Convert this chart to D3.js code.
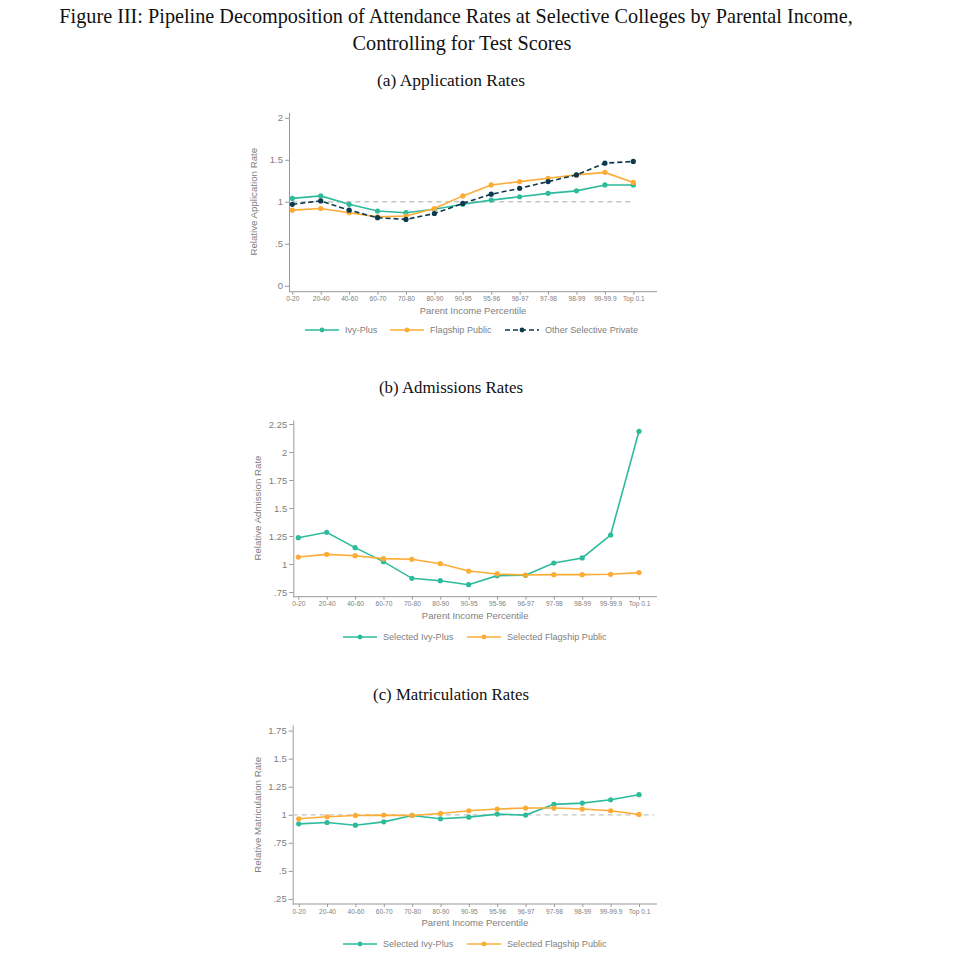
<!DOCTYPE html>
<html><head><meta charset="utf-8">
<script src="https://cdn.jsdelivr.net/npm/d3@7/dist/d3.min.js"></script>
<style>
body{margin:0;background:#fff;}
svg{display:block;}
</style></head>
<body>
<svg id="chart" width="960" height="955"></svg>
<script>
// ---- Data ----
const categories = ["0-20","20-40","40-60","60-70","70-80","80-90","90-95","95-96","96-97","97-98","98-99","99-99.9","Top 0.1"];

// (a) Application rates
const appIvyPlus   = [1.04,1.07,0.97,0.89,0.87,0.91,0.97,1.02,1.06,1.10,1.13,1.20,1.20];
const appFlagship  = [0.90,0.92,0.87,0.82,0.83,0.92,1.07,1.20,1.24,1.28,1.32,1.35,1.23];
const appOtherPriv = [0.97,1.01,0.90,0.81,0.79,0.86,0.98,1.09,1.16,1.24,1.32,1.46,1.48];

// (b) Admission rates
const admIvyPlus   = [1.235,1.283,1.146,1.021,0.872,0.851,0.815,0.896,0.899,1.009,1.054,1.259,2.185];
const admFlagship  = [1.062,1.086,1.074,1.048,1.042,1.003,0.937,0.911,0.902,0.905,0.905,0.908,0.923];

// (c) Matriculation rates
const matIvyPlus   = [0.919,0.931,0.907,0.937,0.994,0.964,0.979,1.006,0.997,1.093,1.104,1.134,1.179];
const matFlagship  = [0.964,0.982,0.994,0.997,0.994,1.012,1.036,1.051,1.060,1.060,1.051,1.036,1.003];

const appTicks = [0,0.5,1,1.5,2];
const admTicks = [0.75,1,1.25,1.5,1.75,2,2.25];
const matTicks = [0.25,0.5,0.75,1,1.25,1.5,1.75];

const titleLine1 = "Figure III: Pipeline Decomposition of Attendance Rates at Selective Colleges by Parental Income,";
const titleLine2 = "Controlling for Test Scores";

// ---- Styles ----
const TEAL = "#2dbb9c", ORANGE = "#fcac35", NAVY = "#0d394f";
const AX = "#9a9a9a", TXT = "#808080";
const SANS = "'Liberation Sans', Arial, sans-serif";
const SERIF = "'Liberation Serif', 'DejaVu Serif', serif";

const svg = d3.select("#chart");

function fitText(sel, target){
  const w = sel.node().getComputedTextLength();
  const fs = parseFloat(sel.attr("font-size"));
  sel.attr("font-size", (fs*target/w).toFixed(2));
}

const t1 = svg.append("text").attr("x",456).attr("y",23).attr("text-anchor","middle")
  .attr("font-family",SERIF).attr("font-size",18).attr("fill","#111").text(titleLine1);
fitText(t1, 794);
const t2 = svg.append("text").attr("x",462).attr("y",50).attr("text-anchor","middle")
  .attr("font-family",SERIF).attr("font-size",t1.attr("font-size")).attr("fill","#111").text(titleLine2);

function fmt(v){
  let s = String(v);
  if (s.startsWith("0.")) s = s.slice(1);
  return s;
}

function panel(cfg){
  const g = svg.append("g");
  const pt = g.append("text").attr("x",cfg.titleX).attr("y",cfg.titleY).attr("text-anchor","middle")
    .attr("font-family",SERIF).attr("font-size",14.5).attr("fill","#111").text(cfg.title);
  fitText(pt, cfg.titleW);

  const x = d3.scalePoint().domain(categories).range([cfg.xFirst, cfg.xLast]);
  const y = d3.scaleLinear().domain(cfg.yDomain).range([cfg.xAxisY, cfg.yTop]);

  // y axis
  const ya = g.append("g").attr("transform",`translate(${cfg.yAxisX},0)`)
    .call(d3.axisLeft(y).tickValues(cfg.ticks).tickFormat(fmt).tickSize(4).tickSizeOuter(0).tickPadding(2));
  ya.select(".domain").attr("stroke",AX);
  ya.selectAll(".tick line").attr("stroke",AX);
  ya.selectAll(".tick text").attr("fill",TXT).attr("font-family",SANS).attr("font-size",9.5);

  // x axis
  const xa = g.append("g").attr("transform",`translate(0,${cfg.xAxisY})`)
    .call(d3.axisBottom(x).tickSize(3).tickSizeOuter(0).tickPadding(2));
  xa.select(".domain").remove();
  xa.append("line").attr("x1",cfg.yAxisX).attr("x2",cfg.xRight).attr("stroke",AX);
  xa.selectAll(".tick line").attr("stroke",AX);
  xa.selectAll(".tick text").attr("fill",TXT).attr("font-family",SANS).attr("font-size",6.6);

  // axis titles
  g.append("text").attr("x",(cfg.yAxisX+cfg.xRight)/2).attr("y",cfg.xAxisY+22)
    .attr("text-anchor","middle").attr("font-family",SANS).attr("font-size",9.5).attr("fill",TXT)
    .text("Parent Income Percentile");
  const ymid = y(cfg.ticks[0]) + (y(cfg.ticks[cfg.ticks.length-1]) - y(cfg.ticks[0]))/2;
  g.append("text").attr("transform",`translate(${cfg.yAxisX-32},${ymid}) rotate(-90)`)
    .attr("text-anchor","middle").attr("font-family",SANS).attr("font-size",9.7).attr("fill",TXT)
    .text(cfg.yTitle);

  // reference line at 1
  if (cfg.ref){
    g.append("line").attr("x1",cfg.ref[0]).attr("x2",cfg.ref[1]).attr("y1",y(1)).attr("y2",y(1))
      .attr("stroke","#c4c4c4").attr("stroke-width",1.3).attr("stroke-dasharray","5,4");
  }

  const line = d3.line().x((d,i)=>x(categories[i])).y(d=>y(d));
  cfg.series.forEach(s=>{
    g.append("path").datum(s.values).attr("d",line).attr("fill","none")
      .attr("stroke",s.color).attr("stroke-width",1.6)
      .attr("stroke-dasharray",s.dash||null);
    g.selectAll(null).data(s.values).enter().append("circle")
      .attr("cx",(d,i)=>x(categories[i])).attr("cy",d=>y(d)).attr("r",2.6).attr("fill",s.color);
  });

  // legend
  const lg = g.append("g");
  cfg.series.forEach(s=>{
    lg.append("line").attr("x1",s.lx).attr("x2",s.lx+34).attr("y1",cfg.legendY).attr("y2",cfg.legendY)
      .attr("stroke",s.color).attr("stroke-width",1.5).attr("stroke-dasharray",s.dash||null);
    lg.append("circle").attr("cx",s.lx+17).attr("cy",cfg.legendY).attr("r",2.4).attr("fill",s.color);
    lg.append("text").attr("x",s.lx+40).attr("y",cfg.legendY+3).attr("font-family",SANS)
      .attr("font-size",9.1).attr("fill",TXT).text(s.name);
  });
}

panel({
  title:"(a) Application Rates", titleX:451, titleY:86, titleW:148,
  yAxisX:289, xFirst:292.3, xLast:633.3, xRight:657,
  xAxisY:291.7, yTop:112.5, yDomain:[-0.071, 2.063], ticks:appTicks,
  yTitle:"Relative Application Rate", ref:[292.3,633.3], legendY:330,
  series:[
    {name:"Ivy-Plus", values:appIvyPlus, color:TEAL, lx:305},
    {name:"Flagship Public", values:appFlagship, color:ORANGE, lx:390},
    {name:"Other Selective Private", values:appOtherPriv, color:NAVY, dash:"5,3", lx:505}
  ]
});

panel({
  title:"(b) Admissions Rates", titleX:451, titleY:393, titleW:144,
  yAxisX:293.3, xFirst:298.3, xLast:639, xRight:657,
  xAxisY:596.7, yTop:420, yDomain:[0.708, 2.286], ticks:admTicks,
  yTitle:"Relative Admission Rate", ref:null, legendY:637,
  series:[
    {name:"Selected Ivy-Plus", values:admIvyPlus, color:TEAL, lx:343},
    {name:"Selected Flagship Public", values:admFlagship, color:ORANGE, lx:467}
  ]
});

panel({
  title:"(c) Matriculation Rates", titleX:451, titleY:700, titleW:156,
  yAxisX:292.7, xFirst:298.7, xLast:639, xRight:657,
  xAxisY:904, yTop:725, yDomain:[0.205, 1.80], ticks:matTicks,
  yTitle:"Relative Matriculation Rate", ref:[292.7,654], legendY:944,
  series:[
    {name:"Selected Ivy-Plus", values:matIvyPlus, color:TEAL, lx:343},
    {name:"Selected Flagship Public", values:matFlagship, color:ORANGE, lx:467}
  ]
});
</script>
</body></html>
